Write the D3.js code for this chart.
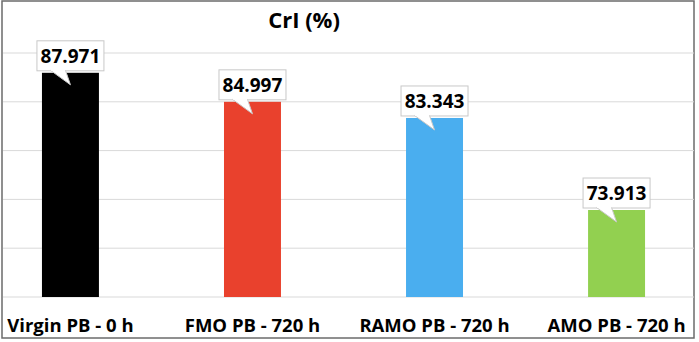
<!DOCTYPE html>
<html>
<head>
<meta charset="utf-8">
<script src="https://cdn.jsdelivr.net/npm/d3@7"></script>
<style>
  html, body { margin: 0; padding: 0; background: #fff; }
</style>
</head>
<body>
<script>
// CrI (%) por muestra
const categories = ["Virgin PB - 0 h", "FMO PB - 720 h", "RAMO PB - 720 h", "AMO PB - 720 h"];
const values = [87.971, 84.997, 83.343, 73.913];
const colors = ["#000000", "#E9412D", "#4AAEEF", "#92D050"];
const gridTicks = [65, 70, 75, 80, 85, 90];

const width = 699, height = 342;

const svg = d3.select("body").append("svg")
  .attr("width", width).attr("height", height)
  .style("font-family", "'Open Sans', sans-serif");

// Borde del gráfico
svg.append("rect")
  .attr("x", 2).attr("y", 1).attr("width", 692).attr("height", 337)
  .attr("fill", "#fff").attr("stroke", "#6b6b6b").attr("stroke-width", 1.5);

const x = d3.scaleBand().domain(categories)
  .range([3, 684]).paddingInner(0.687).paddingOuter(0.214);
const y = d3.scaleLinear().domain([65, 90]).range([297, 53]);

// Grilla
svg.append("g").selectAll("line").data(gridTicks).join("line")
  .attr("x1", 3).attr("x2", 694)
  .attr("y1", d => y(d)).attr("y2", d => y(d))
  .attr("stroke", "#d9d9d9").attr("stroke-width", 1);

// Título
svg.append("text")
  .attr("x", 304).attr("y", 28)
  .attr("text-anchor", "middle").attr("font-size", 22).attr("font-weight", "bold")
  .attr("fill", "#000").text("CrI (%)");

// Barras
svg.append("g").selectAll("rect").data(values).join("rect")
  .attr("x", (d, i) => x(categories[i]))
  .attr("y", d => y(d))
  .attr("width", x.bandwidth())
  .attr("height", d => y(65) - y(d))
  .attr("fill", (d, i) => colors[i]);

// Etiquetas de categoría
svg.append("g").selectAll("text").data(categories).join("text")
  .attr("x", d => x(d) + x.bandwidth() / 2)
  .attr("y", 332)
  .attr("text-anchor", "middle").attr("font-size", 18.5).attr("font-weight", "bold")
  .attr("fill", "#000").text(d => d);

// Callouts con valor
values.forEach((v, i) => {
  const cx = x(categories[i]) + x.bandwidth() / 2;
  const top = y(v);
  const bBottom = top - 2, bTop = bBottom - 30;
  const bw = 67;
  const g = svg.append("g");
  g.append("rect")
    .attr("x", cx - bw / 2).attr("y", bTop)
    .attr("width", bw).attr("height", bBottom - bTop)
    .attr("fill", "#fff").attr("stroke", "#c8c8c8").attr("stroke-width", 1);
  g.append("path")
    .attr("d", `M${cx - 20},${bBottom - 0.5} L${cx},${top + 12} L${cx - 5},${bBottom - 0.5}`)
    .attr("fill", "#fff").attr("stroke", "#c8c8c8").attr("stroke-width", 1);
  g.append("path")
    .attr("d", `M${cx - 19.5},${bBottom - 1} L${cx - 5.5},${bBottom - 1}`)
    .attr("stroke", "#fff").attr("stroke-width", 2);
  g.append("text")
    .attr("x", cx).attr("y", bBottom - 8)
    .attr("text-anchor", "middle").attr("font-size", 19).attr("font-weight", "bold")
    .attr("fill", "#000").text(d3.format(".3f")(v));
});
</script>
</body>
</html>
